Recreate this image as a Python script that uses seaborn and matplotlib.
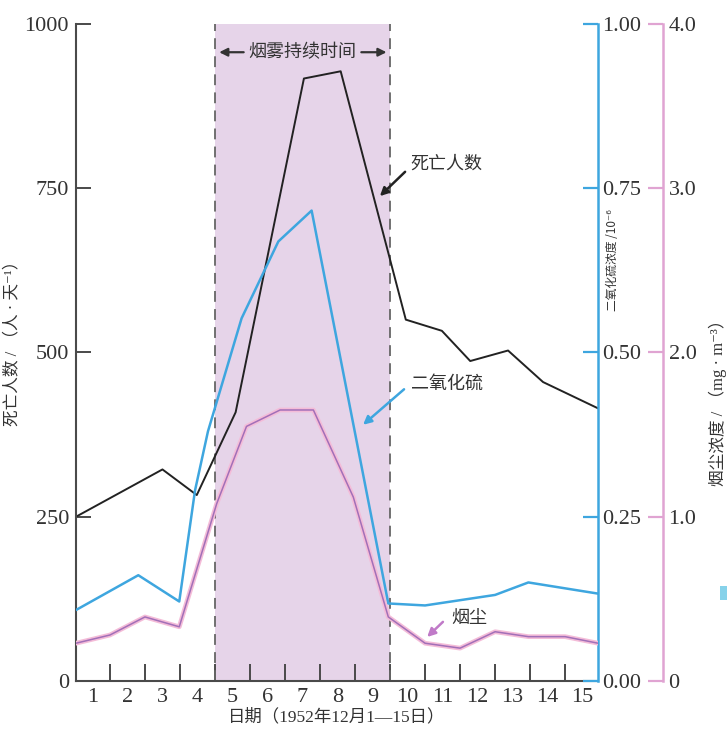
import numpy as np
import pandas as pd
import matplotlib
matplotlib.use('Agg')
import matplotlib.pyplot as plt
from matplotlib.patches import Rectangle
import seaborn as sns

# 死亡人数 (人/天)
death_day = [0.53, 3.0, 3.98, 5.09, 7.04, 8.09, 9.95, 10.98, 11.79, 12.87, 13.87, 15.44]
deaths = [250, 322, 283, 409, 917, 928, 550, 533, 487, 503, 455, 415]

# 二氧化硫浓度 (10^-6)
so2_day = [0.53, 2.31, 3.48, 3.93, 4.3, 5.26, 6.31, 7.26, 9.45, 10.5, 12.5, 13.45, 15.44]
so2 = [0.108, 0.161, 0.121, 0.29, 0.38, 0.552, 0.669, 0.716, 0.118, 0.115, 0.131, 0.150, 0.133]

# 烟尘浓度 (mg/m3)
smoke_day = [0.53, 1.5, 2.5, 3.48, 4.55, 5.4, 6.36, 7.31, 8.45, 9.45, 10.5, 11.5, 12.5, 13.45, 14.5, 15.44]
smoke = [0.23, 0.28, 0.39, 0.33, 1.08, 1.55, 1.65, 1.65, 1.12, 0.39, 0.23, 0.20, 0.30, 0.27, 0.27, 0.23]

day_labels = list(range(1, 16))
death_ticks = [0, 250, 500, 750, 1000]
so2_ticks = [0, 0.25, 0.5, 0.75, 1.0]
so2_ticklabels = ['0.00', '0.25', '0.50', '0.75', '1.00']
smoke_ticks = [0, 1, 2, 3, 4]
smoke_ticklabels = ['0', '1.0', '2.0', '3.0', '4.0']
fog_start, fog_end = 4.5, 9.5

BLUE = '#3ea6df'
PINK = '#e0a4d2'
SHADE = '#e6d4e9'
GRAY = '#4a4a4a'
TICK_FS = 16

sns.set_theme(style='white')
plt.rcParams['font.family'] = ['Liberation Serif', 'Noto Sans CJK SC', 'DejaVu Sans']
CJK = ['Noto Sans CJK SC', 'DejaVu Sans']

fig = plt.figure(figsize=(7.27, 7.31), dpi=100)
ax = fig.add_axes([0.1045, 0.0684, 0.7181, 0.8988])

# 烟雾持续时间 阴影
ax.axvspan(fog_start, fog_end, color=SHADE, lw=0, zorder=0)
for xv in (fog_start, fog_end):
    ax.axvline(xv, color='#666666', lw=1.3, ls=(0, (6, 4)), zorder=1)

sns.lineplot(x=death_day, y=deaths, ax=ax, color='#222222', lw=1.4,
             sort=False, estimator=None)
ax.set_xlim(0.53, 15.44)
ax.set_ylim(0, 1000)

ax.set_yticks(death_ticks)
ax.set_xticks(np.arange(1.5, 15, 1), labels=[''] * 14)
ax.set_xticks(day_labels, minor=True, labels=[str(d) for d in day_labels])
ax.tick_params(axis='y', left=True, direction='in', length=11, width=1.4,
               color=GRAY, labelsize=TICK_FS, pad=5, labelcolor='#333333')
ax.tick_params(axis='x', which='major', bottom=True, direction='in', length=12,
               width=1.4, color=GRAY)
ax.tick_params(axis='x', which='minor', bottom=True, length=0, labelsize=TICK_FS,
               pad=5, labelcolor='#333333')
for s in ['top', 'right']:
    ax.spines[s].set_visible(False)
for s in ['left', 'bottom']:
    ax.spines[s].set_color(GRAY)
    ax.spines[s].set_linewidth(1.5)

ax.set_xlabel('日期（1952年12月1—15日）', fontsize=12.5, color='#333333', labelpad=1)
ax.set_ylabel('死亡人数 / （人 · 天⁻¹）', fontsize=12, color='#333333')
ax.yaxis.set_label_coords(-0.107, 0.52)

# 二氧化硫 轴
ax2 = ax.twinx()
sns.lineplot(x=so2_day, y=so2, ax=ax2, color=BLUE, lw=1.8, sort=False, estimator=None)
ax2.set_ylim(0, 1)
ax2.set_yticks(so2_ticks, labels=so2_ticklabels)
ax2.tick_params(axis='y', right=True, left=False, direction='in', length=11, width=1.6,
                color=BLUE, labelsize=TICK_FS, pad=3, labelcolor='#333333')
for s in ['top', 'left', 'bottom']:
    ax2.spines[s].set_visible(False)
ax2.spines['right'].set_color(BLUE)
ax2.spines['right'].set_linewidth(1.8)
ax2.set_ylabel('')
ax2.text(1.027, 0.64, '二氧化硫浓度 /10⁻⁶', transform=ax2.transAxes, rotation=90,
         ha='center', va='center', fontsize=8.5, family=CJK, color='#333333')

# 烟尘 轴
ax3 = ax.twinx()
ax3.spines['right'].set_position(('axes', 1.1245))
sns.lineplot(x=smoke_day, y=smoke, ax=ax3, color='#f4bcd8', lw=3.4, sort=False,
             estimator=None)
sns.lineplot(x=smoke_day, y=smoke, ax=ax3, color='#a26fb8', lw=1.1, sort=False,
             estimator=None)
ax3.set_ylim(0, 4)
ax3.set_yticks(smoke_ticks, labels=smoke_ticklabels)
ax3.tick_params(axis='y', right=True, left=False, direction='in', length=11, width=1.6,
                color=PINK, labelsize=TICK_FS, pad=4, labelcolor='#333333')
for s in ['top', 'left', 'bottom']:
    ax3.spines[s].set_visible(False)
ax3.spines['right'].set_color(PINK)
ax3.spines['right'].set_linewidth(1.8)
ax3.set_ylabel('')
ax3.text(1.23, 0.43, '烟尘浓度 / （mg · m⁻³）', transform=ax3.transAxes, rotation=90,
         ha='center', va='center', fontsize=12, color='#333333')

# 注释
ax.text(6.99, 957, '烟雾持续时间', ha='center', va='center', fontsize=13,
        family=CJK, color='#333333', zorder=5)
ax.annotate('', xy=(4.62, 957), xytext=(5.32, 957),
            arrowprops=dict(arrowstyle='-|>', color='#333333', lw=1.6,
                            mutation_scale=12, shrinkA=0, shrinkB=0))
ax.annotate('', xy=(9.4, 957), xytext=(8.68, 957),
            arrowprops=dict(arrowstyle='-|>', color='#333333', lw=1.6,
                            mutation_scale=12, shrinkA=0, shrinkB=0))

ax.text(11.1, 788, '死亡人数', ha='center', va='center', fontsize=13,
        family=CJK, color='#333333')
ax.annotate('', xy=(9.21, 738), xytext=(9.93, 775),
            arrowprops=dict(arrowstyle='-|>', color='#222222', lw=1.8,
                            mutation_scale=12, shrinkA=0, shrinkB=0))

ax.text(11.13, 453, '二氧化硫', ha='center', va='center', fontsize=13,
        family=CJK, color='#333333')
ax.annotate('', xy=(8.73, 390), xytext=(9.9, 444),
            arrowprops=dict(arrowstyle='-|>', color=BLUE, lw=1.8,
                            mutation_scale=12, shrinkA=0, shrinkB=0))

ax.text(11.75, 96, '烟尘', ha='center', va='center', fontsize=13,
        family=CJK, color='#333333')
ax.annotate('', xy=(10.56, 67), xytext=(11.01, 90),
            arrowprops=dict(arrowstyle='-|>', color='#c07ac8', lw=1.8,
                            mutation_scale=12, shrinkA=0, shrinkB=0))

# 右侧边缘的小色块
fig.patches.append(Rectangle((0.99, 0.179), 0.01, 0.019, transform=fig.transFigure,
                             color='#86d2ea', lw=0))

fig.savefig('out.png', dpi=100)
